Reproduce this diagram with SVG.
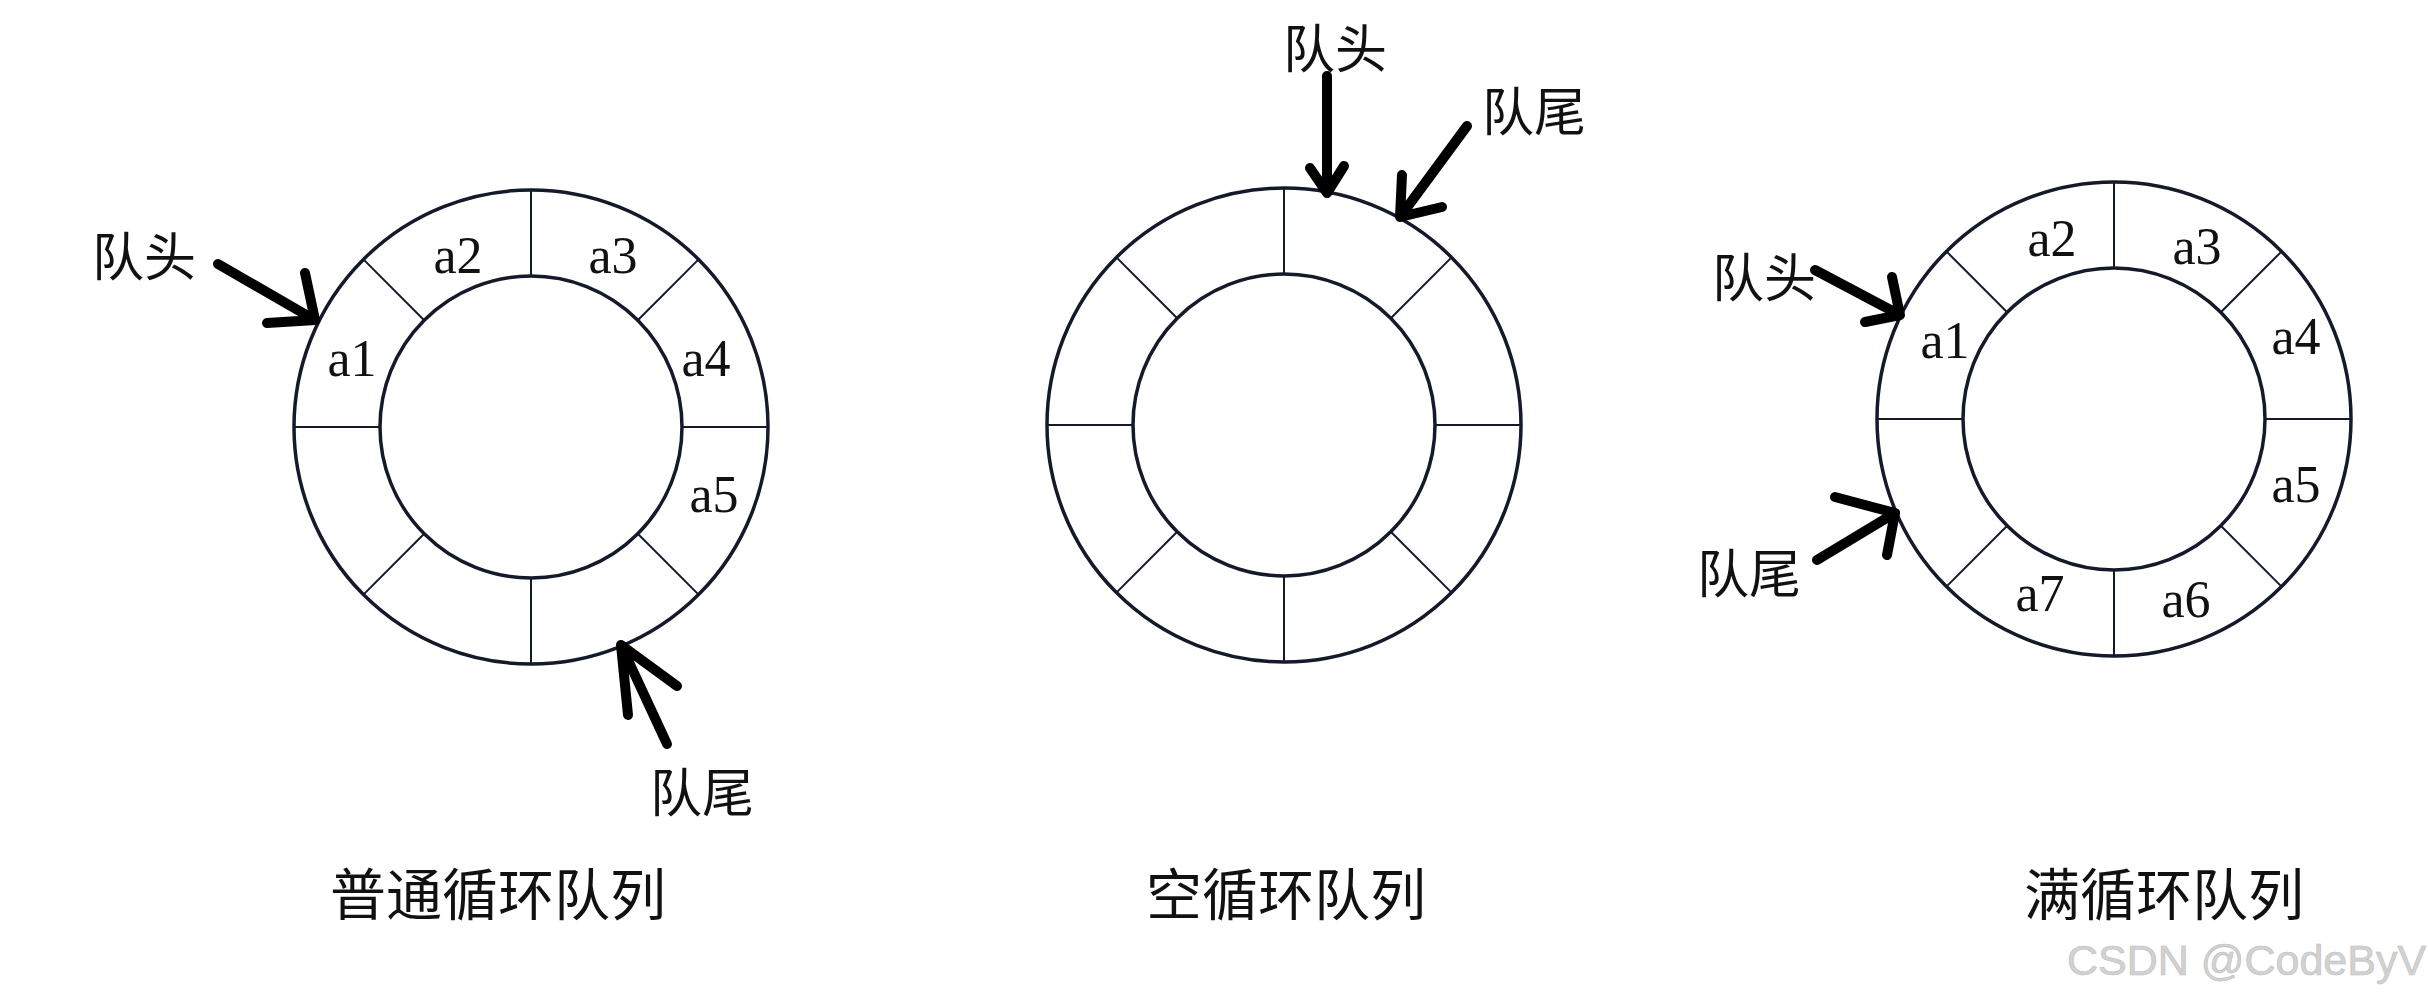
<svg xmlns="http://www.w3.org/2000/svg" xmlns:xlink="http://www.w3.org/1999/xlink" width="2428" height="1000" viewBox="0 0 2428 1000">
<style>
.ring{fill:none;stroke:#141a2a;stroke-width:3.5}
.div{stroke:#141a2a;stroke-width:2}
.arr{fill:none;stroke:#000;stroke-width:10;stroke-linecap:round;stroke-linejoin:round}
.cell{font-family:"Liberation Serif",serif;font-size:52px;fill:#111;text-anchor:middle}
.lbl{font-family:"Noto Sans CJK SC","Noto Sans",sans-serif;font-size:52px;fill:#111}
.cap{font-family:"Noto Sans CJK SC","Noto Sans",sans-serif;font-size:56px;fill:#111}
.wm{font-family:"Liberation Sans",Arial,sans-serif;font-size:43px;fill:#d2d2d2;stroke:#bdbdbd;stroke-width:0.6}
</style>
<defs>
<g id="ringshape">
<circle class="ring" r="237"/>
<circle class="ring" r="151"/>
<line class="div" x1="151" y1="0" x2="237" y2="0"/>
<line class="div" x1="-151" y1="0" x2="-237" y2="0"/>
<line class="div" x1="0" y1="151" x2="0" y2="237"/>
<line class="div" x1="0" y1="-151" x2="0" y2="-237"/>
<line class="div" x1="106.8" y1="106.8" x2="167.6" y2="167.6"/>
<line class="div" x1="-106.8" y1="106.8" x2="-167.6" y2="167.6"/>
<line class="div" x1="106.8" y1="-106.8" x2="167.6" y2="-167.6"/>
<line class="div" x1="-106.8" y1="-106.8" x2="-167.6" y2="-167.6"/>
</g>
</defs>
<rect width="2428" height="1000" fill="#fff"/>
<g id="queue-normal">
<use xlink:href="#ringshape" transform="translate(531,427)"/>
<text class="cell" x="352" y="376">a1</text>
<text class="cell" x="458" y="273">a2</text>
<text class="cell" x="613" y="273">a3</text>
<text class="cell" x="706" y="376">a4</text>
<text class="cell" x="714" y="512">a5</text>
<text class="lbl" x="92" y="276">队头</text>
<text class="lbl" x="650" y="812">队尾</text>
<text class="cap" x="330" y="915">普通循环队列</text>
</g>
<g id="queue-empty">
<use xlink:href="#ringshape" transform="translate(1284,425)"/>
<text class="lbl" x="1283" y="68">队头</text>
<text class="lbl" x="1482" y="131">队尾</text>
<text class="cap" x="1146" y="915">空循环队列</text>
</g>
<g id="queue-full">
<use xlink:href="#ringshape" transform="translate(2114,419)"/>
<text class="cell" x="1945" y="358">a1</text>
<text class="cell" x="2052" y="256">a2</text>
<text class="cell" x="2197" y="264">a3</text>
<text class="cell" x="2296" y="354">a4</text>
<text class="cell" x="2296" y="502">a5</text>
<text class="cell" x="2186" y="617">a6</text>
<text class="cell" x="2040" y="611">a7</text>
<text class="lbl" x="1712" y="297">队头</text>
<text class="lbl" x="1697" y="593">队尾</text>
<text class="cap" x="2024" y="915">满循环队列</text>
</g>
<g id="connectors">
<path class="arr" d="M218,264 L315,320 M305,273 L315,320 L267,323"/>
<path class="arr" d="M667,744 L621,645 M628,715 L621,645 L677,686"/>
<path class="arr" d="M1327,76 L1327,193 M1310,168 L1327,193 L1344,166"/>
<path class="arr" d="M1467,126 L1400,217 M1402,175 L1400,217 L1442,207"/>
<path class="arr" d="M1815,270 L1900,315 M1892,277 L1900,315 L1865,322"/>
<path class="arr" d="M1817,560 L1895,513 M1835,497 L1895,513 L1887,555"/>
</g>
<text class="wm" x="2067" y="975">CSDN @CodeByV</text>
</svg>
